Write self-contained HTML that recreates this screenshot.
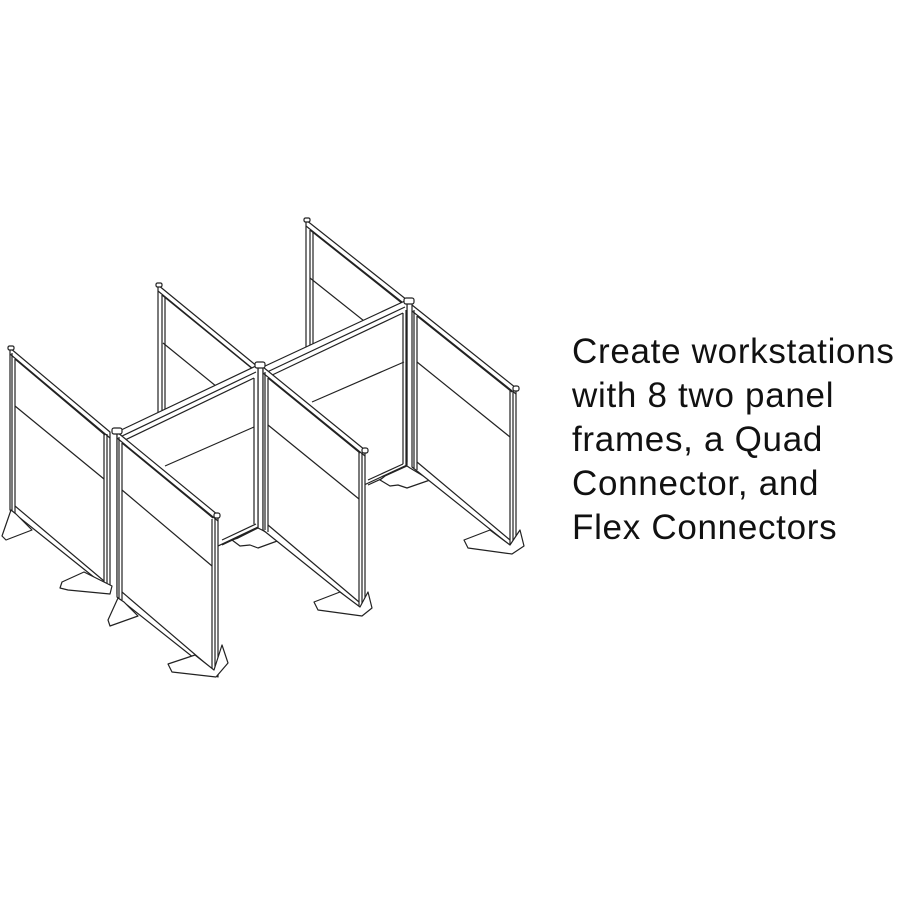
<!DOCTYPE html>
<html><head><meta charset="utf-8"><style>
html,body{margin:0;padding:0;background:#fff;width:900px;height:900px;overflow:hidden}
svg{position:absolute;left:0;top:0}
.t{position:absolute;left:572px;top:330px;font-family:"Liberation Sans",sans-serif;font-size:35px;line-height:44px;color:#111;letter-spacing:0.7px;white-space:nowrap}
</style></head><body>
<svg width="900" height="900" viewBox="0 0 900 900" fill="#fff" stroke="#222" stroke-width="1.2" stroke-linejoin="round">
<g>
<polygon points="306,220 407,300 407,462 306,382"/>
<polyline fill="none" points="306,226 407,306"/><polyline fill="none" points="310,230 403,304"/>
<line x1="310" y1="230" x2="310" y2="382"/><line x1="313" y1="232" x2="313" y2="382"/>
<line x1="310" y1="278" x2="403" y2="352"/>
</g>
<g>
<polygon points="158,285 258,367 258,530 158,450"/>
<polyline fill="none" points="158,291 258,373"/><polyline fill="none" points="162,295 254,370"/>
<line x1="162" y1="295" x2="162" y2="450"/><line x1="165" y1="297" x2="165" y2="450"/>
<line x1="163" y1="343" x2="254" y2="417"/>
</g>
<g>
<polygon points="263,367 407,300 407,465 263,532"/>
<polyline fill="none" points="265,373 405,307"/><polyline fill="none" points="268,377 403,313"/>
<line x1="312" y1="402" x2="404" y2="362"/>
<polyline fill="none" points="368,485 405,468"/><polyline fill="none" points="368,480 403,464"/>
<line x1="403" y1="313" x2="403" y2="464"/><line x1="406" y1="310" x2="406" y2="466"/>
</g>
<g>
<polygon points="117,432 258,365 258,527 117,594"/>
<polyline fill="none" points="120,437 256,372"/><polyline fill="none" points="123,441 254,378"/>
<line x1="165" y1="466" x2="254" y2="427"/>
<polyline fill="none" points="222,545 258,528"/><polyline fill="none" points="222,540 256,524"/>
<line x1="254" y1="378" x2="254" y2="524"/>
</g>
<polygon points="258,528 238,538 232,540 240,546 250,545 258,548 280,540 262,530"/>
<polygon points="407,466 385,476 380,480 390,486 398,485 407,488 430,480 410,468"/>
<g>
<polygon points="412,305 516,388 516,550 412,467"/>
<polyline fill="none" points="412,311 516,394"/><polyline fill="none" points="417,316 512,392"/>
<line x1="417" y1="316" x2="417" y2="470"/><line x1="414" y1="310" x2="414" y2="468"/>
<line x1="510" y1="391" x2="510" y2="546"/><line x1="513" y1="391" x2="513" y2="548"/>
<line x1="417" y1="362" x2="510" y2="437"/>
<polyline fill="none" points="417,462 510,540"/>
<polygon points="520,530 524,546 512,554 468,548 464,540 490,530 510,545"/>
</g>
<g>
<polygon points="263,367 365,450 365,612 263,530"/>
<polyline fill="none" points="263,373 365,456"/><polyline fill="none" points="268,378 360,453"/>
<line x1="268" y1="378" x2="268" y2="532"/><line x1="265" y1="372" x2="265" y2="530"/>
<line x1="359" y1="452" x2="359" y2="608"/><line x1="362" y1="453" x2="362" y2="610"/>
<line x1="268" y1="425" x2="359" y2="499"/>
<polyline fill="none" points="268,525 359,602"/>
<polygon points="368,592 372,608 362,616 318,610 314,602 340,592 360,607"/>
</g>
<g>
<polygon points="10,348 110,432 110,590 10,510"/>
<polyline fill="none" points="10,354 110,438"/><polyline fill="none" points="15,359 105,435"/>
<line x1="15" y1="359" x2="15" y2="514"/><line x1="12" y1="353" x2="12" y2="512"/>
<line x1="104" y1="434" x2="104" y2="586"/><line x1="107" y1="434" x2="107" y2="588"/>
<line x1="15" y1="406" x2="104" y2="479"/>
<polyline fill="none" points="15,506 104,581"/>
<polygon points="11,510 2,536 6,540 32,530 16,514"/>
<polygon points="84,572 62,582 60,588 68,590 110,594 112,586"/>
</g>
<g>
<polygon points="117,432 218,515 218,677 117,597"/>
<polyline fill="none" points="117,438 218,521"/><polyline fill="none" points="122,443 213,518"/>
<line x1="122" y1="443" x2="122" y2="600"/><line x1="119" y1="437" x2="119" y2="598"/>
<line x1="212" y1="519" x2="212" y2="673"/><line x1="215" y1="519" x2="215" y2="675"/>
<line x1="122" y1="490" x2="212" y2="566"/>
<polyline fill="none" points="122,592 212,669"/>
<polygon points="118,598 108,620 110,626 138,616 124,602"/>
<polygon points="222,645 228,663 216,677 172,672 168,664 195,655 214,670"/>
</g>
<g fill="#fff">
<rect x="8" y="346" width="6" height="4" rx="1.5"/><rect x="156" y="283" width="6" height="4" rx="1.5"/>
<rect x="304" y="218" width="6" height="4" rx="1.5"/><rect x="112" y="428" width="10" height="6" rx="2"/>
<rect x="255" y="362" width="10" height="6" rx="2"/><rect x="404" y="298" width="10" height="6" rx="2"/>
<rect x="214" y="513" width="6" height="5" rx="2"/><rect x="362" y="448" width="6" height="5" rx="2"/>
<rect x="513" y="386" width="6" height="5" rx="2"/>
</g>
</svg>
<div class="t">Create workstations<br>with 8 two panel<br>frames, a Quad<br>Connector, and<br>Flex Connectors</div>
</body></html>
